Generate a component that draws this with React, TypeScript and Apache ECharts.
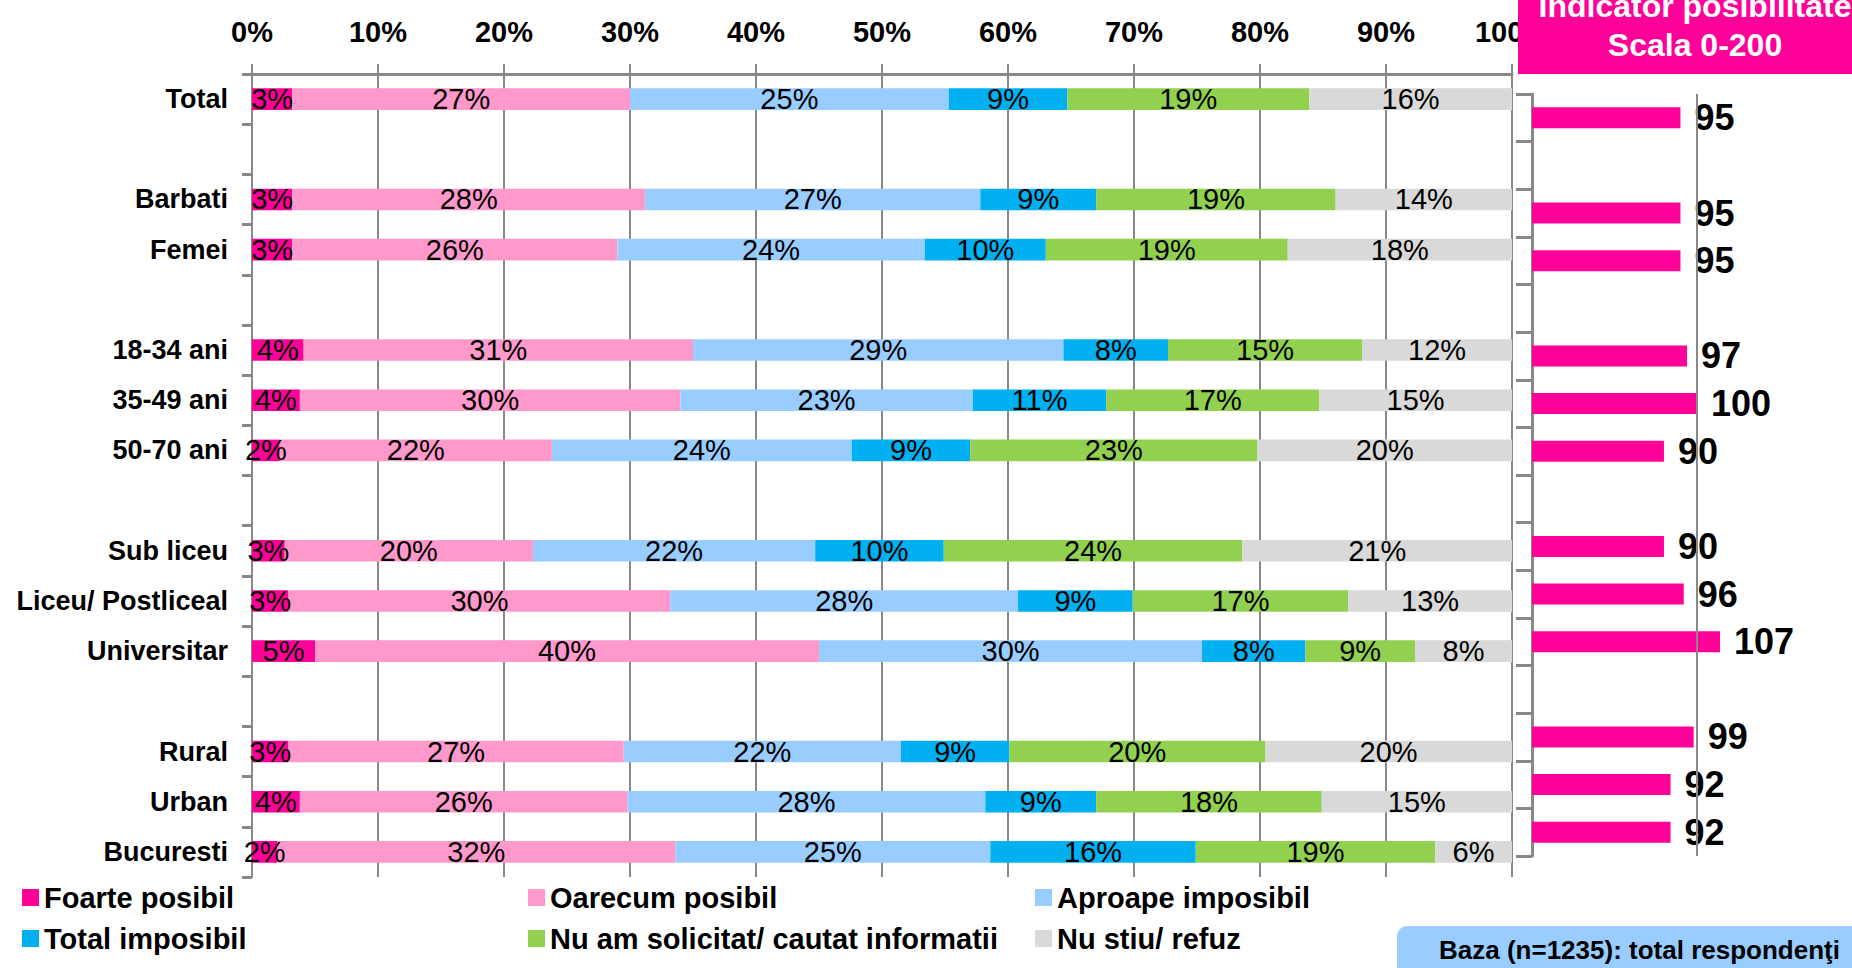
import React, { useEffect, useRef } from 'react';
import * as echarts from 'echarts';

const categories = ['Total', ' ', 'Barbati', 'Femei', '  ', '18-34 ani', '35-49 ani', '50-70 ani', '   ', 'Sub liceu', 'Liceu/ Postliceal', 'Universitar', '    ', 'Rural', 'Urban', 'Bucuresti'];

const seriesNames = ['Foarte posibil', 'Oarecum posibil', 'Aproape imposibil', 'Total imposibil', 'Nu am solicitat/ cautat informatii', 'Nu stiu/ refuz'];
const seriesColors = ['#FF0099', '#FF99CC', '#99CCFF', '#00B0F0', '#92D050', '#D9D9D9'];

const foartePosibil = [3.2, null, 3.2, 3.2, null, 4.1, 3.8, 2.2, null, 2.6, 2.9, 5.0, null, 2.9, 3.8, 2.0];
const oarecumPosibil = [26.8, null, 28.0, 25.8, null, 30.9, 30.2, 21.6, null, 19.7, 30.3, 40.0, null, 26.6, 26.0, 31.6];
const aproapeImposibil = [25.3, null, 26.6, 24.4, null, 29.4, 23.2, 23.8, null, 22.4, 27.6, 30.4, null, 22.0, 28.4, 25.0];
const totalImposibil = [9.4, null, 9.2, 9.6, null, 8.3, 10.6, 9.4, null, 10.2, 9.1, 8.2, null, 8.6, 8.8, 16.3];
const nuAmSolicitat = [19.2, null, 19.0, 19.2, null, 15.4, 16.9, 22.8, null, 23.7, 17.1, 8.7, null, 20.3, 17.9, 19.0];
const nuStiu = [16.1, null, 14.0, 17.8, null, 11.9, 15.3, 20.2, null, 21.4, 13.0, 7.7, null, 19.6, 15.1, 6.1];

const indicator = [95, null, 95, 95, null, 97, 100, 90, null, 90, 96, 107, null, 99, 92, 92];

const headerLines = ['Indicator posibilitate', 'Scala 0-200'];
const baseText = 'Baza (n=1235): total respondenţi';

const SANS = "'Liberation Sans', Arial, sans-serif";

export default function App() {
  const ref = useRef<HTMLDivElement>(null);
  useEffect(() => {
    if (!ref.current) return;
    const chart = echarts.init(ref.current, null, { renderer: 'svg' });
    const stackData = [foartePosibil, oarecumPosibil, aproapeImposibil, totalImposibil, nuAmSolicitat, nuStiu];
    const legendPos = [
      { left: 22, top: 883 },
      { left: 528, top: 883 },
      { left: 1035, top: 883 },
      { left: 22, top: 924 },
      { left: 528, top: 924 },
      { left: 1035, top: 924 },
    ];
    const option: any = {
      animation: false,
      backgroundColor: '#ffffff',
      grid: [
        { left: 252, right: 340, top: 74, bottom: 91, outerBoundsMode: 'none', containLabel: false },
        { left: 1532, right: 0, top: 94, bottom: 112, outerBoundsMode: 'none', containLabel: false },
      ],
      legend: seriesNames.map((n, i) => ({
        data: [n],
        left: legendPos[i].left,
        top: legendPos[i].top,
        padding: 0,
        icon: 'rect',
        itemWidth: 17,
        itemHeight: 17,
        selectedMode: false,
        textStyle: { fontSize: 29, fontWeight: 'bold', fontFamily: SANS, color: '#000' },
      })),
      xAxis: [
        {
          type: 'value',
          gridIndex: 0,
          position: 'top',
          min: 0,
          max: 100,
          interval: 10,
          axisLine: { show: true, lineStyle: { color: '#888', width: 3 } },
          axisTick: { show: true, length: 10, lineStyle: { color: '#888', width: 2 } },
          axisLabel: { formatter: '{value}%', fontSize: 29, fontWeight: 'bold', fontFamily: SANS, color: '#000', margin: 28 },
          splitLine: { show: true, lineStyle: { color: '#888', width: 2 } },
        },
        {
          type: 'value',
          gridIndex: 1,
          min: 50,
          max: 147,
          axisLine: { show: false },
          axisTick: { show: false },
          axisLabel: { show: false },
          splitLine: { show: false },
        },
      ],
      yAxis: [
        {
          type: 'category',
          gridIndex: 0,
          inverse: true,
          data: categories,
          axisLine: { show: true, lineStyle: { color: '#888', width: 2 } },
          axisTick: { show: true, length: 10, lineStyle: { color: '#888', width: 3 } },
          axisLabel: { fontSize: 27, fontWeight: 'bold', fontFamily: SANS, color: '#000', margin: 24 },
        },
        {
          type: 'category',
          gridIndex: 1,
          inverse: true,
          data: categories,
          axisLine: { show: true, lineStyle: { color: '#888', width: 3 } },
          axisTick: { show: true, length: 16, lineStyle: { color: '#888', width: 3 } },
          axisLabel: { show: false },
        },
      ],
      series: [
        ...seriesNames.map((n, i) => ({
          name: n,
          type: 'bar',
          stack: 'total',
          xAxisIndex: 0,
          yAxisIndex: 0,
          barWidth: '43%',
          data: stackData[i],
          itemStyle: { color: seriesColors[i] },
          label: {
            show: true,
            position: 'inside',
            formatter: (p: any) => (p.value == null ? '' : Math.round(p.value) + '%'),
            fontSize: 29,
            fontFamily: SANS,
            color: '#000',
          },
        })),
        {
          name: 'Indicator',
          type: 'bar',
          xAxisIndex: 1,
          yAxisIndex: 1,
          barWidth: '44%',
          data: indicator,
          itemStyle: { color: '#FF0099' },
          label: {
            show: true,
            position: 'right',
            distance: 14,
            fontSize: 36,
            fontWeight: 'bold',
            fontFamily: SANS,
            color: '#000',
          },
          markLine: {
            silent: true,
            symbol: ['none', 'none'],
            label: { show: false },
            lineStyle: { color: '#888', width: 2, type: 'solid' },
            data: [{ xAxis: 100 }],
          },
        },
      ],
      graphic: [
        {
          type: 'rect',
          z: 100,
          shape: { x: 1518, y: -10, width: 400, height: 84 },
          style: { fill: '#FF0099' },
        },
        ...headerLines.map((t, i) => ({
          type: 'text',
          z: 101,
          x: 1695,
          y: 6 + i * 39,
          style: {
            text: t,
            fill: '#fff',
            font: `bold 32px ${SANS}`,
            textAlign: 'center',
            textVerticalAlign: 'middle',
            align: 'center',
            verticalAlign: 'middle',
          },
        })),
        {
          type: 'rect',
          z: 100,
          shape: { x: 1397, y: 926, width: 500, height: 60, r: [10, 0, 0, 0] },
          style: { fill: '#99CCFF' },
        },
        {
          type: 'text',
          z: 101,
          x: 1439,
          y: 950,
          style: {
            text: baseText,
            fill: '#000',
            font: `bold 26px ${SANS}`,
            textAlign: 'left',
            textVerticalAlign: 'middle',
            align: 'left',
            verticalAlign: 'middle',
          },
        },
      ],
    };
    chart.setOption(option);
    return () => chart.dispose();
  }, []);
  return <div ref={ref} style={{ position: 'fixed', left: 0, top: 0, width: 1852, height: 968, background: '#fff' }} />;
}
